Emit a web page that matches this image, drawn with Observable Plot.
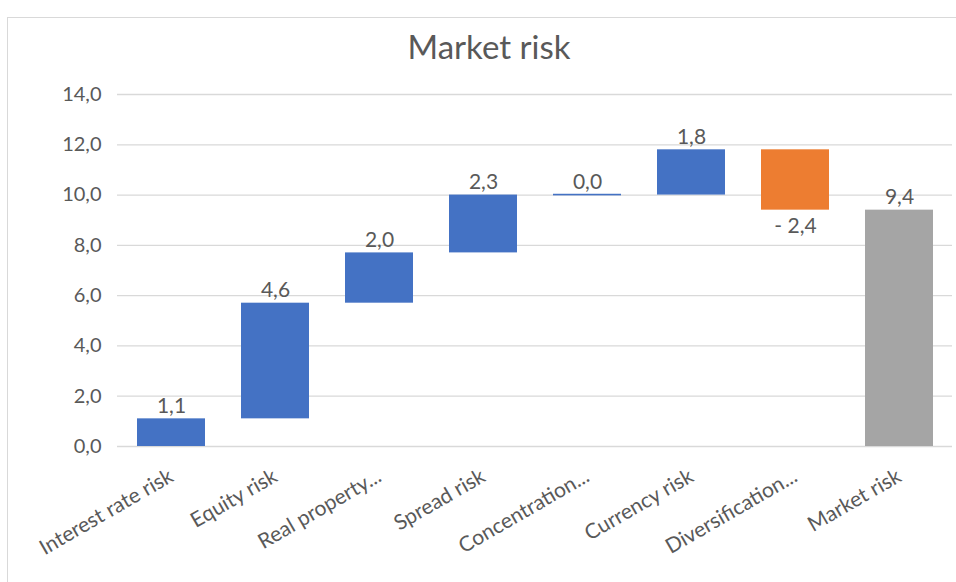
<!DOCTYPE html>
<html>
<head>
<meta charset="utf-8">
<script src="https://cdn.jsdelivr.net/npm/d3@7"></script>
<script src="https://cdn.jsdelivr.net/npm/@observablehq/plot@0.6"></script>
<style>
  html, body { margin: 0; padding: 0; background: #fff; }
  #frame { position: absolute; left: 7px; top: 17px; width: 960px; height: 600px; border: 1px solid #D9D9D9; box-sizing: border-box; z-index: 5; pointer-events: none; }
  #wrap { position: absolute; left: 0; top: 0; width: 956px; }
  #title { height: 80px; text-align: center; font-family: Lato, "Open Sans", sans-serif; font-size: 33px; color: #595959; line-height: 92px; padding-left: 22px; box-sizing: border-box; }
</style>
</head>
<body>
<div id="frame"></div>
<div id="wrap">
  <div id="title">Market risk</div>
  <div id="chart"></div>
</div>
<script>
const categories = ["Interest rate risk", "Equity risk", "Real property...", "Spread risk", "Concentration...", "Currency risk", "Diversification...", "Market risk"];
const changes = [1.1, 4.6, 2.0, 2.3, 0.0, 1.8, -2.4, 9.4];
const kinds = ["increase", "increase", "increase", "increase", "increase", "increase", "decrease", "total"];
const yTicks = [0, 2, 4, 6, 8, 10, 12, 14];

let running = 0;
const rows = categories.map((c, i) => {
  let y1, y2;
  if (kinds[i] === "total") { y1 = 0; y2 = changes[i]; running = changes[i]; }
  else { y1 = running; y2 = running + changes[i]; running = y2; }
  return { cat: c, value: changes[i], kind: kinds[i], y1, y2, top: Math.max(y1, y2), bottom: Math.min(y1, y2) };
});

const fmt = v => (v < 0 ? "- " : "") + Math.abs(v).toFixed(1).replace(".", ",");
const font = "Lato, 'Open Sans', sans-serif";

const chart = Plot.plot({
  width: 956,
  height: 502,
  marginTop: 14,
  marginBottom: 136,
  marginLeft: 117,
  marginRight: 4,
  style: { fontFamily: font, color: "#595959", background: "transparent" },
  x: { type: "band", domain: categories, paddingInner: 0.35, paddingOuter: 0.175, label: null },
  y: { domain: [0, 14], label: null },
  color: { domain: ["increase", "decrease", "total"], range: ["#4472C4", "#ED7D31", "#A5A5A5"] },
  marks: [
    Plot.gridY(yTicks, { stroke: "#D9D9D9", strokeOpacity: 1, strokeWidth: 1.3 }),
    Plot.axisY(yTicks, { tickSize: 0, tickPadding: 16, fontSize: 20, fill: "#595959", tickFormat: d => d.toFixed(1).replace(".", ","), label: null }),
    Plot.axisX({ tickSize: 0, tickPadding: 28, tickRotate: -30, fontSize: 21, fill: "#595959", label: null }),
    Plot.rectY(rows.filter(d => d.value !== 0), { x: "cat", y1: "y1", y2: "y2", fill: "kind" }),
    Plot.rectY(rows.filter(d => d.value === 0), { x: "cat", y1: "y1", y2: "y2", fill: "kind", insetTop: -0.8, insetBottom: -0.8 }),
    Plot.text(rows.filter(d => d.value >= 0), { x: "cat", y: "top", text: d => fmt(d.value), lineAnchor: "bottom", dy: -6, fontSize: 21, fill: "#595959" }),
    Plot.text(rows.filter(d => d.value < 0), { x: "cat", y: "bottom", text: d => fmt(d.value), lineAnchor: "top", dy: 8, fontSize: 21, fill: "#595959" })
  ]
});
document.getElementById("chart").appendChild(chart);
</script>
</body>
</html>
